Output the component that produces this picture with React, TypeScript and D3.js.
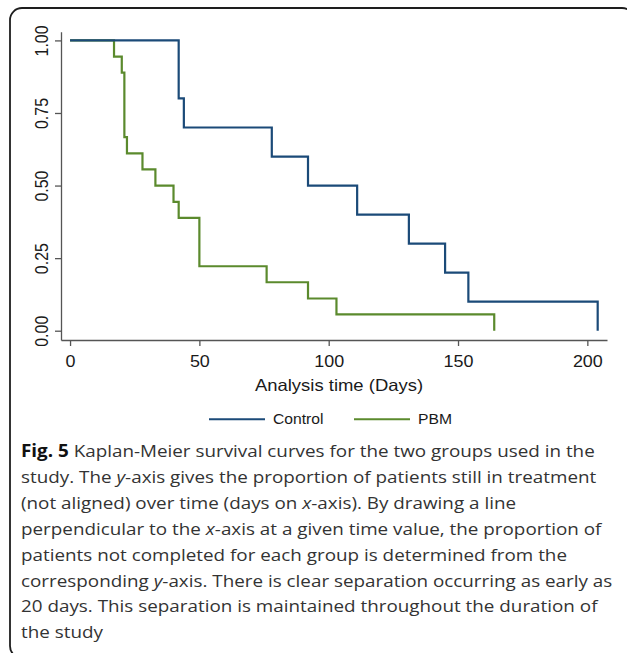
import React, { useRef, useEffect } from 'react';
import * as d3 from 'd3';

// Kaplan-Meier steps (time in days, proportion still in treatment)
const controlTimes = [0, 42, 44, 78, 92, 111, 131, 145, 154, 204];
const controlSurv = [1, 0.8, 0.7, 0.6, 0.5, 0.4, 0.3, 0.2, 0.1, 0];
const pbmTimes = [0, 17, 20, 21, 22, 28, 33, 40, 42, 50, 76, 92, 103, 164];
const pbmSurv = [1, 0.944, 0.889, 0.667, 0.611, 0.556, 0.5, 0.444, 0.389, 0.222, 0.167, 0.111, 0.056, 0];

const xTicks = [0, 50, 100, 150, 200];
const yTicks = [0, 0.25, 0.5, 0.75, 1];
const seriesNames = ['Control', 'PBM'];
const seriesColors = ['#1b4a78', '#5b8a2d'];
const xTitle = 'Analysis time (Days)';

// caption, one entry per line; each part is [text, style] with b = bold, i = italic
const captionLines = [
  [['Fig. 5', 'b'], [' Kaplan-Meier survival curves for the two groups used in the', '']],
  [['study. The ', ''], ['y', 'i'], ['-axis gives the proportion of patients still in treatment', '']],
  [['(not aligned) over time (days on ', ''], ['x', 'i'], ['-axis). By drawing a line', '']],
  [['perpendicular to the ', ''], ['x', 'i'], ['-axis at a given time value, the proportion of', '']],
  [['patients not completed for each group is determined from the', '']],
  [['corresponding ', ''], ['y', 'i'], ['-axis. There is clear separation occurring as early as', '']],
  [['20 days. This separation is maintained throughout the duration of', '']],
  [['the study', '']],
];

const W = 627;
const H = 653;
const STRETCH = 1.12; // the text in the figure is a little wide

function KMChart() {
  const svgRef = useRef<SVGSVGElement>(null);

  useEffect(() => {
    const svg = d3.select(svgRef.current);
    svg.selectAll('*').remove();

    // figure frame (rounded, cut off at right and bottom)
    svg.append('rect')
      .attr('x', 10).attr('y', 8)
      .attr('width', 624).attr('height', 650)
      .attr('rx', 12)
      .attr('fill', 'none')
      .attr('stroke', '#1e1e1e')
      .attr('stroke-width', 1.8);

    const x = d3.scaleLinear().domain([-3.5, 207.6]).range([61, 607]);
    const y = d3.scaleLinear().domain([-0.032, 1.03]).range([340, 31.7]);

    const chartFont = '"Liberation Sans", Arial, sans-serif';

    // x axis
    const gx = svg.append('g')
      .attr('transform', `translate(0,${y.range()[0]})`)
      .call(d3.axisBottom(x).tickValues(xTicks).tickFormat(d3.format('d')).tickSize(6).tickSizeOuter(0));
    gx.select('.domain').attr('stroke', '#555').attr('stroke-width', 1.3);
    gx.selectAll('.tick line').attr('stroke', '#555').attr('stroke-width', 1.3);
    gx.selectAll('.tick text')
      .attr('dy', null)
      .attr('fill', '#1a1a1a')
      .style('font-family', chartFont)
      .style('font-size', '16px')
      .attr('text-anchor', 'middle')
      .attr('transform', `translate(0,27) scale(${STRETCH},1)`);

    // y axis
    const gy = svg.append('g')
      .attr('transform', `translate(${x.range()[0]},0)`)
      .call(d3.axisLeft(y).tickValues(yTicks).tickFormat(d3.format('.2f')).tickSize(6).tickSizeOuter(0));
    gy.select('.domain').attr('stroke', '#555').attr('stroke-width', 1.3);
    gy.selectAll('.tick line').attr('stroke', '#555').attr('stroke-width', 1.3);
    gy.selectAll('.tick text')
      .attr('dy', null)
      .attr('fill', '#1a1a1a')
      .style('font-family', chartFont)
      .style('font-size', '16px')
      .attr('text-anchor', 'middle')
      .attr('transform', `translate(-12.7,0) scale(${STRETCH},1) rotate(-90)`);
    svg.selectAll('.tick text').attr('x', 0).attr('y', 0);

    // x axis title
    svg.append('text')
      .attr('transform', `translate(339,390.5) scale(${STRETCH},1)`)
      .attr('text-anchor', 'middle')
      .attr('fill', '#1a1a1a')
      .style('font-family', chartFont)
      .style('font-size', '16.5px')
      .text(xTitle);

    // survival step lines
    const line = d3.line<[number, number]>()
      .x(d => x(d[0]))
      .y(d => y(d[1]))
      .curve(d3.curveStepAfter);

    const series: [number, number][][] = [
      controlTimes.map((t, i) => [t, controlSurv[i]] as [number, number]),
      pbmTimes.map((t, i) => [t, pbmSurv[i]] as [number, number]),
    ];

    // draw PBM first so Control sits on top where they share the 1.00 line
    [1, 0].forEach(i => {
      svg.append('path')
        .datum(series[i])
        .attr('fill', 'none')
        .attr('stroke', seriesColors[i])
        .attr('stroke-width', 2.2)
        .attr('d', line);
    });

    // legend
    const legendX = [209, 354];
    const legend = svg.append('g');
    seriesNames.forEach((name, i) => {
      legend.append('line')
        .attr('x1', legendX[i]).attr('x2', legendX[i] + 56)
        .attr('y1', 419.3).attr('y2', 419.3)
        .attr('stroke', seriesColors[i])
        .attr('stroke-width', 2);
      legend.append('text')
        .attr('transform', `translate(${legendX[i] + 64},424.2) scale(${STRETCH},1)`)
        .attr('fill', '#1a1a1a')
        .style('font-family', chartFont)
        .style('font-size', '14px')
        .text(name);
    });

    // caption
    const cap = svg.append('g')
      .style('font-family', '"Open Sans", "Noto Sans", sans-serif')
      .style('font-size', '17px')
      .attr('fill', '#333');
    const rows = captionLines.map((parts, li) => {
      const t = cap.append('text').attr('x', 0).attr('y', 0).datum(li);
      parts.forEach(([txt, st]) => {
        const span = t.append('tspan').text(txt);
        if (st === 'b') span.attr('font-weight', 700).attr('fill', '#111');
        if (st === 'i') span.attr('font-style', 'italic');
      });
      return t;
    });
    // fit the first line to its width in the figure (x 21 .. 595)
    const firstLen = (rows[0].node() as SVGTextElement).getComputedTextLength() || 1;
    const sx = 574 / firstLen;
    rows.forEach((t, li) => {
      t.attr('transform', `translate(21,${457 + li * 25.9}) scale(${sx},1)`);
    });
  }, []);

  return (
    <svg ref={svgRef} width={W} height={H} style={{ position: 'absolute', left: 0, top: 0, background: '#fff' }} />
  );
}

export default function App() {
  return <KMChart />;
}
